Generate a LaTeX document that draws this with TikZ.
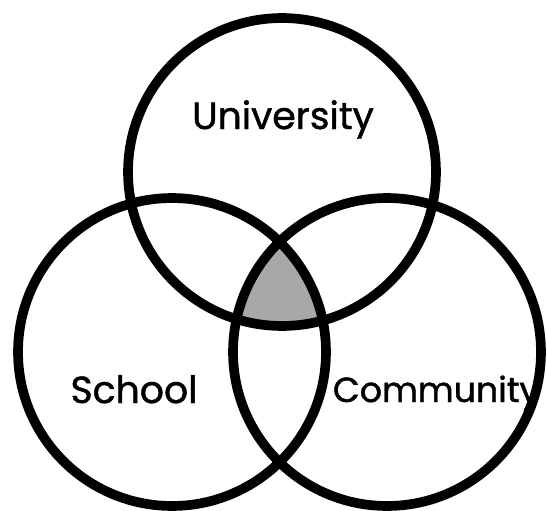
\documentclass[tikz,border=0pt]{standalone}
\usepackage{fontspec}
\setmainfont{Poppins}
\newfontfamily\rotulo{Poppins}[FakeBold=1.2]
\usepackage{tikz}
\usetikzlibrary{positioning}

\begin{document}
\begin{tikzpicture}[x=0.02cm, y=-0.02cm,
    conjunto/.style={draw, circle, line width=5.5pt, minimum size=6.16cm, inner sep=0pt},
    etiqueta/.style={anchor=base, font=\rotulo\fontsize{21.5}{24}\selectfont}]
            \useasboundingbox (0,0) rectangle (547,510);
            % Interseccion de los tres
            \begin{scope}
              \clip (282,172) circle [radius=3.08cm];
              \clip (172,352) circle [radius=3.08cm];
              \fill[black!34] (387,352) circle [radius=3.08cm];
            \end{scope}

            % Conjuntos
            \node[conjunto] (uni) at (282,172) {};
            \node[conjunto] (esc) at (172,352) {};
            \node[conjunto] (com) at (387,352) {};

            % Etiquetas
            \node[etiqueta] (tuni) at (283,129) {University};
            \node[etiqueta] (tesc) at (134,403) {School};
            \node[etiqueta, font=\rotulo\fontsize{19.8}{24}\selectfont] (tcom) at (436,402) {Community};
          \end{tikzpicture}
\end{document}
